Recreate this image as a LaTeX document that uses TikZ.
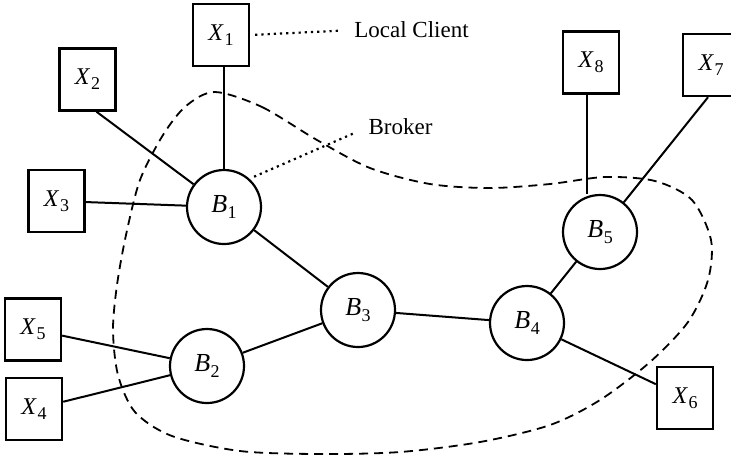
\documentclass[tikz,border=0pt]{standalone}
\usepackage{fontspec}
\setmainfont{Liberation Serif}
\newcommand{\lbl}[3]{\textit{#1}\kern0.3pt\raisebox{-0.45ex}{\fontsize{#3}{#3}\selectfont #2}}

\begin{document}
\begin{tikzpicture}[x=0.5pt,y=-0.5pt,
  client/.style={draw,line width=1.2pt,minimum width=28pt,minimum height=31pt,inner sep=0pt,font=\fontsize{12}{14}\selectfont},
  broker/.style={draw,circle,line width=1.1pt,minimum size=37pt,inner sep=0pt,font=\fontsize{13}{15}\selectfont},
  link/.style={line width=1pt},
  note/.style={dotted,line width=1.1pt},
  region/.style={dash pattern=on 4.5pt off 3pt,line width=0.9pt}]
\useasboundingbox (0,0) rectangle (731,463);
% brokers
\node [broker] (B1) at (224,207) {\lbl{B}{1}{9}};
\node [broker] (B2) at (207,366) {\lbl{B}{2}{9}};
\node [broker] (B3) at (358,310) {\lbl{B}{3}{9}};
\node [broker] (B4) at (527,323) {\lbl{B}{4}{9}};
\node [broker] (B5) at (600,232) {\lbl{B}{5}{9}};
% clients
\node [client] (X1) at (221,35) {\lbl{X}{1}{9}};
\node [client] (X2) at (87.5,79.5) {\lbl{X}{2}{9}};
\node [client] (X3) at (56.5,201) {\lbl{X}{3}{9}};
\node [client] (X4) at (34,409) {\lbl{X}{4}{9}};
\node [client] (X5) at (33,329.5) {\lbl{X}{5}{9}};
\node [client] (X6) at (685,398) {\lbl{X}{6}{9}};
\node [client] (X7) at (711,65) {\lbl{X}{7}{9}};
\node [client] (X8) at (591,62.5) {\lbl{X}{8}{9}};
% labels
\node [inner sep=0pt,font=\fontsize{11.5}{13}\selectfont] (lc) at (411.5,30) {Local Client};
\node [inner sep=0pt,font=\fontsize{11.5}{13}\selectfont] (br) at (400.5,127) {Broker};
% links
\draw [link] (B1) -- (B1 |- X1.south);
\draw [link] ([xshift=4.5pt]X2.south) -- (B1);
\draw [link] (X3) -- (B1);
\draw [link] (B1) -- (B3);
\draw [link] (B2) -- (B3);
\draw [link] (X5) -- (B2);
\draw [link] (X4) -- (B2);
\draw [link] (B3) -- (B4);
\draw [link] (B4) -- (B5);
\draw [link] (B4) -- (X6);
\draw [link] ([xshift=-2pt]X8.south) -- ([xshift=-2pt]X8.south |- B5.north);
\draw [link] ([xshift=-1.5pt]X7.south) -- (B5);
% notes
\draw [note,shorten <=2.5pt,shorten >=7.5pt] (X1.east) -- (lc.west);
\draw [note,shorten <=2.5pt,shorten >=7pt] (B1.48) -- (br.west);
% region
\draw [region] plot [smooth cycle] coordinates {
  (215,92) (262,107) (317,140) (370,168) (430,184) (490,188) (550,184)
  (605,177) (655,181) (692,200) (711,240) (708,280) (688,322) (650,362)
  (600,400) (550,425) (480,442) (400,452) (320,454) (240,451) (172,436)
  (135,412) (118,375) (113,330) (117,285) (126,235) (140,180) (163,135) (186,106)};
\end{tikzpicture}
\end{document}
